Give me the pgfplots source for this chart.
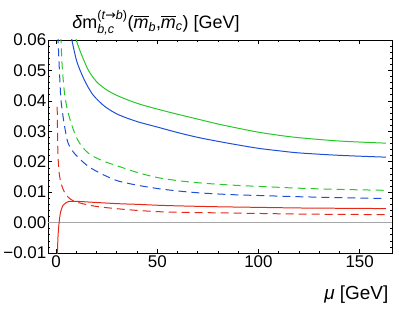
\documentclass[border=0pt]{standalone}
\usepackage{amsmath}
\usepackage{fontspec}
\setmainfont{Liberation Sans}
\newfontfamily\arrowfont{DejaVu Sans}
\usepackage{pgfplots}
\pgfplotsset{compat=1.18}
\definecolor{cgreen}{RGB}{40,200,40}
\definecolor{cblue}{RGB}{30,80,215}
\definecolor{cred}{RGB}{232,40,22}
\begin{document}
\begin{tikzpicture}
\begin{axis}[
  scale only axis, width=344bp, height=213bp,
  xmin=-4, xmax=166, ymin=-0.01, ymax=0.06,
  xtick={0,50,100,150}, minor x tick num=4,
  ytick={-0.01,0,0.01,0.02,0.03,0.04,0.05,0.06},
  yticklabels={−0.01,0.00,0.01,0.02,0.03,0.04,0.05,0.06},
  minor y tick num=4,
  scaled y ticks=false,
  /pgf/number format/assume math mode=true,
  tick align=inside, major tick length=4bp, minor tick length=2.2bp,
  tick style={black, line width=0.6pt},
  axis line style={black, line width=0.9pt},
  ticklabel style={font=\fontsize{17}{19}\selectfont},
  yticklabel style={inner sep=1.5bp},
  xticklabel style={inner sep=2bp},
  every axis plot/.append style={line width=1pt},
  clip mode=individual,
]
\path (rel axis cs:-0.1395,-0.2676) rectangle (rel axis cs:1.0203,1.1878);
\addplot[gray!70, line width=0.7pt] coordinates {(-4,0) (166,0)};
% green solid
\addplot[cgreen, smooth] coordinates {
(9.5,0.0615)(10,0.0600)(11.5,0.0570)(13,0.0545)(16,0.0500)(20,0.0463)(25,0.0436)(31,0.0415)(40,0.0392)(50,0.0373)(60,0.0356)(70,0.0340)(80,0.0324)(90,0.0310)(100,0.0297)(110,0.0287)(120,0.0279)(140,0.0268)(163,0.0261)};
% blue solid
\addplot[cblue, smooth] coordinates {
(7.4,0.0615)(7.8,0.0600)(10,0.0535)(12.2,0.0495)(15,0.0455)(18,0.0422)(21.3,0.0398)(25,0.0377)(31,0.0354)(40,0.0332)(50,0.0314)(60,0.0296)(70,0.0280)(80,0.0267)(90,0.0255)(100,0.0244)(110,0.0236)(120,0.0229)(140,0.0221)(163,0.0215)};
% green dashed
\addplot[cgreen, smooth, dash pattern=on 8bp off 5bp] coordinates {
(2.2,0.0615)(2.4,0.0600)(3,0.0515)(4,0.0435)(5,0.0390)(6.2,0.0355)(7.6,0.0324)(9,0.0297)(10.5,0.0274)(13,0.0248)(16,0.0228)(20,0.0212)(25,0.0198)(30,0.0187)(40,0.0165)(50,0.0148)(60,0.0138)(70,0.0131)(80,0.0126)(90,0.0122)(100,0.0119)(120,0.0113)(140,0.0109)(163,0.0106)};
% blue dashed
\addplot[cblue, smooth, dash pattern=on 8bp off 5bp] coordinates {
(0.95,0.0615)(1,0.0600)(1.5,0.0520)(2.3,0.0413)(3,0.0370)(4,0.0324)(5.6,0.0268)(7,0.0247)(8.5,0.0232)(10.5,0.0217)(14,0.0195)(17,0.0180)(21.3,0.0164)(26,0.0149)(31,0.0136)(40,0.0123)(50,0.0112)(60,0.0104)(70,0.0098)(80,0.0094)(90,0.0091)(100,0.0089)(120,0.0085)(140,0.0082)(163,0.0079)};
% red dashed
\addplot[cred, smooth, tension=0.4, dash pattern=on 8bp off 5bp] coordinates {
(0.55,0.0380)(0.7,0.0300)(0.85,0.0240)(1,0.0210)(1.5,0.0164)(2,0.0143)(2.5,0.0128)(3.5,0.0109)(5,0.0090)(7.3,0.0076)(9,0.0070)(11.4,0.0065)(15,0.0059)(20,0.0053)(25,0.0049)(31,0.0045)(40,0.0040)(50,0.0036)(60,0.0034)(80,0.0032)(100,0.0030)(120,0.0028)(140,0.0027)(163,0.0026)};
% red solid
\addplot[cred, smooth, tension=0.5] coordinates {
(0.6,-0.0115)(0.65,-0.0100)(0.8,-0.0070)(1,-0.0040)(1.25,-0.0018)(1.5,0.0000)(2,0.0027)(2.6,0.0043)(3.5,0.0057)(4.8,0.0065)(6,0.0069)(8,0.0070)(10,0.0070)(15,0.0068)(20,0.0066)(31,0.0062)(40,0.0060)(50,0.0057)(60,0.0055)(80,0.0052)(100,0.0050)(120,0.0048)(140,0.0047)(163,0.0046)};
\node[anchor=base west, inner sep=0pt, font=\fontsize{18}{20}\selectfont] at (rel axis cs:0.07,1.056)
  {\textit{δ}m$^{\text{(\textit{t}{\arrowfont →}\textit{b})}}_{\text{\textit{b,c}}}$($\overline{\text{\textit{m}}}_{\text{\textit{b}}}$,$\overline{\text{\textit{m}}}_{\text{\textit{c}}}$) [GeV]};
\node[anchor=base east, inner sep=0pt, font=\fontsize{19}{21}\selectfont] at (rel axis cs:0.99,-0.216)
  {\textit{μ} [GeV]};
\end{axis}
\end{tikzpicture}
\end{document}
